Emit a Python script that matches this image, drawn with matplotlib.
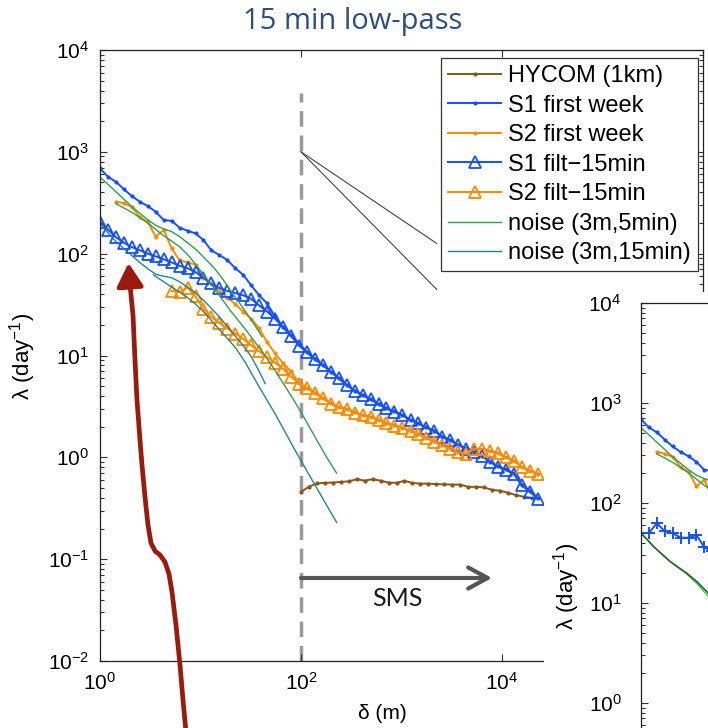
import matplotlib
matplotlib.use('Agg')
import matplotlib.pyplot as plt
import numpy as np
from matplotlib.patches import Rectangle, FancyArrowPatch
from matplotlib.path import Path
from matplotlib.ticker import LogLocator, NullLocator, NullFormatter

plt.rcParams['font.family'] = ['Liberation Sans', 'DejaVu Sans']
plt.rcParams['mathtext.fontset'] = 'custom'
plt.rcParams['mathtext.rm'] = 'Liberation Sans'
plt.rcParams['mathtext.it'] = 'Liberation Sans:italic'
plt.rcParams['mathtext.default'] = 'regular'

# separation bins (m)
delta = [1.00, 1.20, 1.44, 1.73, 2.07, 2.49, 2.99, 3.58, 4.30, 5.16,
         6.19, 7.43, 8.92, 10.7, 12.8, 15.4, 18.5, 22.2, 26.6, 31.9,
         38.3, 46.0, 55.2, 66.2, 79.5, 95.4, 114, 137, 165, 198,
         237, 285, 342, 410, 492, 591, 709, 851, 1020, 1230,
         1470, 1760, 2120, 2540, 3050, 3660, 4390, 5270, 6320, 7590,
         9100, 10900, 13100, 15700, 18900, 22700]
nan = np.nan

s1_week = [689, 569, 509, 429, 368, 324, 293, 258, 214, 210,
           180, 168, 158, 136, 108, 97, 86.5, 72, 62, 49,
           39, 32.5, 24, 19, 15.8, 13.1, 10.9, 9.3, 8.1, 6.95,
           5.98, 5.15, 4.52, 4.1, 3.72, 3.35, 3.04, 2.82, 2.6, 2.34,
           2.16, 1.97, 1.83, 1.6, 1.48, 1.33, 1.23, 1.14, 1.04, 0.91,
           0.82, 0.76, 0.70, 0.54, 0.47, 0.40]
s2_week = [nan, nan, 324, 312, 289, 229, 205, 147, 171, 113,
           86, 82, 78, 58, 50, 43, 37, 32, 27, 23,
           18.5, 13.5, 10.5, 8.4, 7.0, 5.35, 4.8, 4.32, 3.82, 3.38,
           3.12, 2.96, 2.76, 2.61, 2.51, 2.33, 2.16, 2.06, 1.96, 1.83,
           1.69, 1.56, 1.44, 1.33, 1.23, 1.14, 1.08, 1.21, 1.2, 1.15,
           1.1, 1.0, 0.93, 0.8, 0.74, 0.69]
s1_filt = [206, 172, 145, 128, 116, 108, 100, 94, 88, 82,
           76, 72, 66, 58, 51, 46, 43, 41, 39, 36,
           31, 27, 23, 19, 15.6, 12.5, 10.8, 9.2, 8.05, 6.92,
           5.96, 5.12, 4.5, 4.08, 3.7, 3.33, 3.02, 2.80, 2.59, 2.32,
           2.15, 1.96, 1.82, 1.59, 1.47, 1.32, 1.22, 1.13, 1.03, 0.90,
           0.81, 0.75, 0.69, 0.53, 0.46, 0.39]
s2_filt = [nan, nan, nan, nan, nan, nan, nan, nan, nan, 43,
           42, 46.5, 38, 28.5, 23.7, 21, 18.4, 16.4, 14.5, 12.6,
           11, 9.6, 8.5, 7.4, 6.2, 5.3, 4.75, 4.3, 3.8, 3.35,
           3.1, 2.95, 2.75, 2.6, 2.5, 2.32, 2.15, 2.05, 1.95, 1.82,
           1.68, 1.55, 1.43, 1.32, 1.22, 1.13, 1.07, 1.22, 1.2, 1.15,
           1.1, 1.0, 0.93, 0.8, 0.74, 0.69]

hycom_delta = [100, 120, 144, 173, 207, 249, 299, 358, 430, 516,
               619, 743, 892, 1070, 1280, 1540, 1850, 2220, 2660, 3190,
               3830, 4600, 5520, 6620, 7950, 9540, 11400, 13700, 16500, 19800]
hycom = [0.458, 0.515, 0.555, 0.562, 0.565, 0.574, 0.58, 0.61, 0.59, 0.61,
         0.59, 0.565, 0.562, 0.588, 0.56, 0.552, 0.552, 0.546, 0.542, 0.54,
         0.54, 0.513, 0.513, 0.506, 0.48, 0.47, 0.45, 0.426, 0.41, 0.40]

noise5_s1_x = [1.0, 1.2, 1.44, 2.07, 2.99, 3.58, 4.3, 5.16, 6.19, 7.43,
               9.2, 11.0, 13.4, 16.3, 19.7, 23.8, 28.8, 34.5, 41]
noise5_s1 = [565, 480, 405, 290, 215, 190, 175, 165, 147, 128,
             108, 90, 74, 58, 44, 34, 26, 20, 15.3]
noise5_s2_x = [1.44, 2.07, 2.99, 4.3, 5.16, 6.19, 7.43, 9.0, 11.0, 13.4,
               19.6, 28.3, 40, 53, 66, 87, 110, 138, 175, 226]
noise5_s2 = [310, 255, 200, 150, 133, 117, 98, 78, 60, 47,
             28, 17.8, 11.3, 7.6, 5.4, 3.5, 2.35, 1.58, 1.05, 0.70]
noise15_s1_x = [1.0, 1.2, 1.44, 1.73, 2.07, 2.49, 2.99, 3.58, 4.3, 5.16,
                6.19, 7.43, 8.92, 10.7, 15.4, 22.2, 26.6, 31.9, 38.3, 44]
noise15_s1 = [200, 160, 132, 112, 96, 82, 71, 63, 60, 58,
              53, 47, 41, 35, 24, 15.5, 12.5, 9.8, 7.0, 5.3]
noise15_s2_x = [3.4, 4.3, 5.16, 6.19, 7.43, 8.92, 10.7, 15.4, 22.2, 28,
                38, 55, 87, 130, 186, 226]
noise15_s2 = [62, 53, 47, 42, 37, 32, 27, 18, 12, 8.5,
              5.0, 2.7, 1.18, 0.59, 0.32, 0.23]

# reference slopes -2/3 and -1 from (100 m, 1000/day)
ref_x = [100, 2240]
ref_23 = [1000, 126]
ref_1 = [1000, 44.6]

# second panel (partly visible)
inset_plus_x = [1.0, 1.2, 1.44, 1.73, 2.07, 2.49, 2.99, 3.58, 4.3, 5.16]
inset_plus = [50, 50, 63, 52, 50, 45, 45, 48, 36, 33]
inset_noise_x = [1.0, 1.34, 1.96, 2.88, 3.63, 4.73, 6.0]
inset_noise_a = [50, 36.6, 25.9, 19.8, 16.3, 12.5, 10.0]
inset_noise_b = [50, 36.6, 25.9, 19.4, 15.6, 11.6, 9.2]

C_BROWN = '#8b5516'
C_BLUE = '#1450ff'
C_ORANGE = '#ff8a00'
C_GREEN = '#2ca24c'
C_TEAL = '#23858a'

W, H = 708.0, 728.0


def fpos(left, top, width, height):
    return [left / W, 1 - (top + height) / H, width / W, height / H]


def fxy(px, py):
    return (px / W, 1 - py / H)


def style(a, xlabels, ylabels):
    a.set_xscale('log')
    a.set_yscale('log')
    a.set_xlim(1, 1e6)
    a.set_ylim(1e-2, 1e4)
    a.set_xticks([1, 1e2, 1e4, 1e6])
    a.set_xticklabels(xlabels)
    a.xaxis.set_minor_locator(NullLocator())
    a.set_yticks([1e-2, 1e-1, 1, 10, 1e2, 1e3, 1e4])
    a.set_yticklabels(ylabels)
    a.yaxis.set_minor_locator(LogLocator(base=10, subs=np.arange(2, 10), numticks=30))
    a.yaxis.set_minor_formatter(NullFormatter())
    a.tick_params(which='both', direction='in', top=True, right=True,
                  labelsize=15, width=0.8, color='#333333')
    a.tick_params(which='major', length=5, pad=8)
    a.tick_params(which='minor', length=3)
    for s in a.spines.values():
        s.set_linewidth(0.9)
        s.set_color('#222222')


ylabs = ['$10^{-2}$', '$10^{-1}$', '$10^{0}$', '$10^{1}$', '$10^{2}$', '$10^{3}$', '$10^{4}$']

fig = plt.figure(figsize=(7.08, 7.28), dpi=100)

ax = fig.add_axes(fpos(100, 50, 603, 611), zorder=1)
style(ax, ['$10^{0}$', '$10^{2}$', '$10^{4}$', ''], ylabs)

ax.axvline(100, ymin=0, ymax=0.93, color='#9a9a9a', lw=2.5, dashes=(4.5, 2.5), zorder=1.5)
ax.plot(ref_x, ref_23, color='#444444', lw=0.8)
ax.plot(ref_x, ref_1, color='#444444', lw=0.8)

h1, = ax.plot(hycom_delta, hycom, color=C_BROWN, lw=1.4, marker='.', ms=4, label='HYCOM (1km)')
h2, = ax.plot(delta, s1_week, color=C_BLUE, lw=1.4, marker='.', ms=4, label='S1 first week')
h3, = ax.plot(delta, s2_week, color=C_ORANGE, lw=1.4, marker='.', ms=4, label='S2 first week')
h4, = ax.plot(delta, s1_filt, color=C_BLUE, lw=1.4, marker='^', ms=8.5, mfc='none',
              mew=1.3, label='S1 filt\u221215min')
h5, = ax.plot(delta, s2_filt, color=C_ORANGE, lw=1.4, marker='^', ms=8.5, mfc='none',
              mew=1.3, label='S2 filt\u221215min')
h6, = ax.plot(noise5_s1_x, noise5_s1, color=C_GREEN, lw=1.0, label='noise (3m,5min)')
ax.plot(noise5_s2_x, noise5_s2, color=C_GREEN, lw=1.0)
h7, = ax.plot(noise15_s1_x, noise15_s1, color=C_TEAL, lw=1.0, label='noise (3m,15min)')
ax.plot(noise15_s2_x, noise15_s2, color=C_TEAL, lw=1.0)

leg = ax.legend(handles=[h1, h2, h3, h4, h5, h6, h7], loc='upper right',
                bbox_to_anchor=(0.992, 0.987), fontsize=17, numpoints=1,
                handlelength=2.25, handletextpad=0.3, labelspacing=0.32,
                borderpad=0.3, borderaxespad=0, fancybox=False, framealpha=1)
leg.get_frame().set_edgecolor('#333333')
leg.get_frame().set_linewidth(0.9)

ax.set_ylabel('\u03bb (day$^{-1}$)', fontsize=16)
ax.yaxis.set_label_coords(-0.103, 0.498)
ax.set_xlabel('\u03b4 (m)', fontsize=15)
ax.xaxis.set_label_coords(0.469, -0.07)

# white block behind the second panel
fig.add_artist(Rectangle(fxy(544, H), (W - 544) / W, (H - 292) / H,
                         transform=fig.transFigure, facecolor='white',
                         edgecolor='none', zorder=2))

ax2 = fig.add_axes(fpos(641, 303, 600, 600), zorder=3)
style(ax2, ['', '', '', ''], ['', ''] + ylabs[2:])
ax2.tick_params(which='major', pad=14)
ax2.plot(delta, s1_week, color=C_BLUE, lw=1.4, marker='.', ms=4)
ax2.plot(delta, s2_week, color=C_ORANGE, lw=1.4, marker='.', ms=4)
ax2.plot(noise5_s1_x, noise5_s1, color=C_GREEN, lw=1.0)
ax2.plot(noise5_s2_x, noise5_s2, color=C_GREEN, lw=1.0)
ax2.plot(inset_plus_x, inset_plus, color=C_BLUE, lw=1.4, marker='+', ms=9, mew=1.4)
ax2.plot(inset_noise_x, inset_noise_b, color='#4caf50', lw=0.9)
ax2.plot(inset_noise_x, inset_noise_a, color='#1d6b1d', lw=1.2)
ax2.set_ylabel('\u03bb (day$^{-1}$)', fontsize=16)
ax2.yaxis.set_label_coords(-0.098, 0.527)

# slide annotations
fig.text(353 / W, 1 - 22 / H, '15 min low-pass', color='#2b4f7e', fontsize=21,
         family='Open Sans', ha='center', va='center')

red_path = [(186, 732), (183, 700), (180, 665), (176, 625), (172, 592), (169, 574),
            (165, 562), (160, 555), (155, 551), (151, 543), (148, 525), (145, 497),
            (142, 465), (140, 440), (137, 400), (135, 360), (133, 315), (130, 285),
            (128.5, 263)]
verts = [fxy(px, py) for px, py in red_path]
fig.add_artist(FancyArrowPatch(path=Path(verts), arrowstyle='-|>,head_length=0.7,head_width=0.4',
                               mutation_scale=20, lw=3.4, color='#9a1a0c',
                               transform=fig.transFigure, zorder=10, joinstyle='round',
                               capstyle='round'))

fig.add_artist(FancyArrowPatch(posA=fxy(301, 578), posB=fxy(492, 578),
                               arrowstyle='->,head_length=0.7,head_width=0.38',
                               mutation_scale=20, lw=3, color='#555555',
                               transform=fig.transFigure, zorder=10,
                               shrinkA=0, shrinkB=0))
fig.text(397 / W, 1 - 598 / H, 'SMS', fontsize=18, family='Lato',
         color='#1a1a1a', ha='center', va='center')

fig.savefig('out.png', dpi=100)
